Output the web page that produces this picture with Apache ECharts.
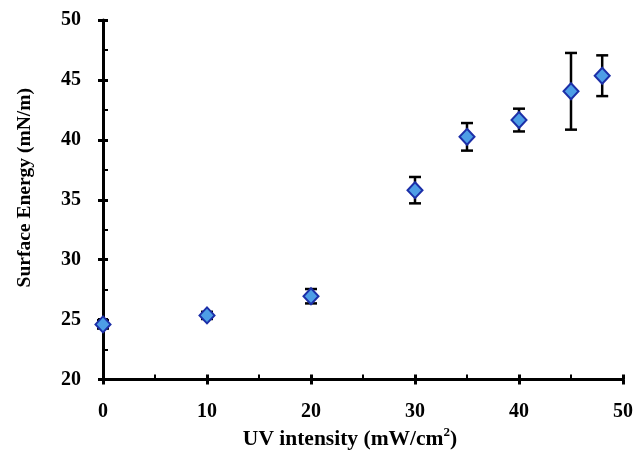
<!DOCTYPE html>
<html><head><meta charset="utf-8">
<script src="https://cdn.jsdelivr.net/npm/echarts@6/dist/echarts.min.js"></script>
<style>html,body{margin:0;padding:0;background:#fff}#c{width:636px;height:455px}</style>
</head><body><div id="c"></div>
<script>
const uvIntensity = [0, 10, 20, 30, 35, 40, 45, 48];
const surfaceEnergy = [24.6, 25.35, 26.95, 35.8, 40.25, 41.65, 44.05, 45.35];
const errorBars = [0.35, 0.3, 0.6, 1.1, 1.15, 0.95, 3.2, 1.7];

const pts = uvIntensity.map((x, i) => [x, surfaceEnergy[i]]);
const errs = uvIntensity.map((x, i) => [x, surfaceEnergy[i] - errorBars[i], surfaceEnergy[i] + errorBars[i]]);

const FONT = '"Liberation Serif", "Times New Roman", serif';
const chart = echarts.init(document.getElementById('c'));
const axisCommon = {
  type: 'value',
  axisLine: { show: true, lineStyle: { color: '#000', width: 3 } },
  splitLine: { show: false }
};
chart.setOption({
  animation: false,
  grid: { left: 103, top: 20, right: 11, bottom: 75 },
  xAxis: [
    Object.assign({}, axisCommon, {
      min: 0, max: 50, interval: 10,
      axisTick: { show: true, inside: true, length: 5, lineStyle: { color: '#000', width: 3 } },
      minorTick: { show: true, splitNumber: 2, length: 5, lineStyle: { color: '#000', width: 2 } },
      axisLabel: { color: '#000', fontFamily: FONT, fontWeight: 'bold', fontSize: 20, margin: 22 },
      name: '{t|UV intensity (mW/cm}{s|2}{t|)}',
      nameLocation: 'middle', nameGap: 47,
      nameTextStyle: { padding: [0, 26, 0, 0], rich: {
        t: { fontFamily: FONT, fontWeight: 'bold', fontSize: 21.5, color: '#000' },
        s: { fontFamily: FONT, fontWeight: 'bold', fontSize: 13, color: '#000', verticalAlign: 'top', padding: [0,0,12,0] }
      } }
    }),
    Object.assign({}, axisCommon, {
      min: 0, max: 50, interval: 10, position: 'bottom',
      axisLine: { show: false },
      axisTick: { show: true, inside: false, length: 5, lineStyle: { color: '#000', width: 3 } },
      axisLabel: { show: false }
    })
  ],
  yAxis: [
    Object.assign({}, axisCommon, {
      min: 20, max: 50, interval: 5,
      axisTick: { show: true, inside: true, length: 5, lineStyle: { color: '#000', width: 3 } },
      minorTick: { show: true, splitNumber: 2, length: 5, lineStyle: { color: '#000', width: 2 } },
      axisLabel: { color: '#000', fontFamily: FONT, fontWeight: 'bold', fontSize: 20, margin: 22 },
      name: 'Surface Energy (mN/m)',
      nameLocation: 'middle', nameGap: 68,
      nameTextStyle: { fontFamily: FONT, fontWeight: 'bold', fontSize: 19.5, color: '#000', padding: [0, 0, 0, 24] }
    }),
    Object.assign({}, axisCommon, {
      min: 20, max: 50, interval: 5, position: 'left',
      axisLine: { show: false },
      axisTick: { show: true, inside: false, length: 5, lineStyle: { color: '#000', width: 3 } },
      axisLabel: { show: false }
    })
  ],
  series: [
    {
      type: 'custom',
      data: errs,
      encode: { x: 0, y: [1, 2] },
      z: 1,
      renderItem: function (params, api) {
        const x = api.value(0);
        const lo = api.coord([x, api.value(1)]);
        const hi = api.coord([x, api.value(2)]);
        const hw = 6;
        const st = { stroke: '#000', lineWidth: 2.5 };
        return { type: 'group', children: [
          { type: 'line', shape: { x1: lo[0], y1: lo[1], x2: hi[0], y2: hi[1] }, style: st },
          { type: 'line', shape: { x1: lo[0] - hw, y1: lo[1], x2: lo[0] + hw, y2: lo[1] }, style: st },
          { type: 'line', shape: { x1: hi[0] - hw, y1: hi[1], x2: hi[0] + hw, y2: hi[1] }, style: st }
        ] };
      }
    },
    {
      type: 'scatter',
      data: pts,
      z: 3,
      symbol: 'diamond',
      symbolSize: [15, 16],
      itemStyle: { color: '#4d9ee6', borderColor: '#1c2fa8', borderWidth: 2, opacity: 1 }
    }
  ]
});
</script></body></html>
